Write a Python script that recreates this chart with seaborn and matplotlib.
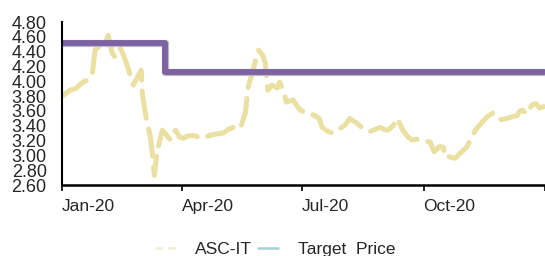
import pandas as pd
import numpy as np
import seaborn as sns
import matplotlib.pyplot as plt
import matplotlib.dates as mdates
from matplotlib.lines import Line2D

# share price
fechas = ['2020-01-02','2020-01-07','2020-01-11','2020-01-17','2020-01-21','2020-01-24','2020-01-26',
          '2020-01-28','2020-01-31','2020-02-02','2020-02-05','2020-02-08','2020-02-10','2020-02-14',
          '2020-02-16','2020-02-20','2020-02-24','2020-03-01','2020-03-02','2020-03-05','2020-03-08',
          '2020-03-09','2020-03-11','2020-03-13','2020-03-17','2020-03-20','2020-03-23','2020-03-27',
          '2020-03-30','2020-04-02','2020-04-05','2020-04-09','2020-04-13','2020-04-16','2020-04-22',
          '2020-04-27','2020-05-02','2020-05-06','2020-05-10','2020-05-15','2020-05-19','2020-05-21',
          '2020-05-24','2020-05-27','2020-05-29','2020-06-01','2020-06-03','2020-06-05','2020-06-08',
          '2020-06-12','2020-06-14','2020-06-17','2020-06-19','2020-06-24','2020-06-29','2020-07-04',
          '2020-07-09','2020-07-14','2020-07-16','2020-07-20','2020-07-24','2020-07-28','2020-07-31',
          '2020-08-03','2020-08-06','2020-08-11','2020-08-15','2020-08-18','2020-08-21','2020-08-25',
          '2020-08-29','2020-09-01','2020-09-04','2020-09-08','2020-09-11','2020-09-15','2020-09-19',
          '2020-09-22','2020-09-27','2020-10-01','2020-10-06','2020-10-09','2020-10-13','2020-10-16',
          '2020-10-17','2020-10-21','2020-10-25','2020-10-28','2020-10-30','2020-11-03','2020-11-07',
          '2020-11-10','2020-11-14','2020-11-18','2020-11-23','2020-11-26','2020-11-29','2020-12-03',
          '2020-12-07','2020-12-11','2020-12-13','2020-12-15','2020-12-18','2020-12-22','2020-12-25',
          '2020-12-28','2020-12-31']
precio = [3.81,3.88,3.90,3.99,4.02,4.11,4.42,
          4.46,4.47,4.49,4.62,4.38,4.33,4.45,
          4.38,4.18,3.95,4.15,3.81,3.48,3.25,
          3.10,2.73,3.05,3.34,3.28,3.21,3.34,
          3.25,3.23,3.26,3.27,3.25,3.23,3.27,
          3.29,3.30,3.35,3.38,3.36,3.58,3.92,
          4.11,4.30,4.42,4.35,4.25,3.88,3.95,
          3.91,3.99,3.85,3.72,3.75,3.62,3.57,
          3.55,3.50,3.38,3.33,3.30,3.34,3.38,
          3.42,3.50,3.44,3.38,3.35,3.32,3.35,
          3.38,3.35,3.34,3.40,3.50,3.35,3.25,
          3.21,3.22,3.20,3.18,3.05,3.12,3.11,
          2.98,2.98,2.96,3.02,3.05,3.12,3.27,
          3.36,3.44,3.52,3.58,3.53,3.48,3.50,
          3.52,3.54,3.60,3.61,3.56,3.68,3.70,
          3.64,3.66]

fechas_target = ['2020-01-01','2020-03-19','2020-12-31']
target = [4.52, 4.12, 4.12]

df = pd.DataFrame({'fecha': pd.to_datetime(fechas), 'precio': precio})
df_target = pd.DataFrame({'fecha': pd.to_datetime(fechas_target), 'target': target})

#%%
sns.set_style('white')
plt.rcParams['font.family'] = ['Liberation Sans', 'DejaVu Sans']

fig = plt.figure(figsize=(5.45, 2.56), dpi=100)
ax = fig.add_axes([0.1138, 0.277, 0.8862, 0.637])

sns.lineplot(x='fecha', y='precio', data=df, ax=ax, color='#EAE0A2', lw=3.6,
             linestyle=(0, (5.5, 2.2)), dash_capstyle='round', solid_capstyle='round',
             dash_joinstyle='round')
sns.lineplot(x='fecha', y='target', data=df_target, ax=ax, color='#B9B9C4', lw=5.2,
             drawstyle='steps-post')
sns.lineplot(x='fecha', y='target', data=df_target, ax=ax, color='#7D62A1', lw=4.2,
             drawstyle='steps-post')

ax.set_xlim(pd.Timestamp('2020-01-01'), pd.Timestamp('2021-01-01'))
ax.set_ylim(2.6, 4.8)
ax.set_yticks(np.arange(2.6, 4.81, 0.2))
ax.set_yticklabels([f'{v:.2f}' for v in np.arange(2.6, 4.81, 0.2)], fontsize=13)

ticks_x = pd.to_datetime(['2020-01-01', '2020-04-01', '2020-07-01', '2020-10-01', '2021-01-01'])
ax.set_xticks(ticks_x)
ax.set_xticklabels(['Jan-20', 'Apr-20', 'Jul-20', 'Oct-20', ''], fontsize=12.5, ha='left')
ax.tick_params(axis='x', direction='out', length=4, width=1.2, color='black', pad=6, bottom=True)
ax.tick_params(axis='y', length=0, pad=11)
ax.set_xlabel('')
ax.set_ylabel('')

ax.spines['right'].set_visible(False)
ax.spines['top'].set_visible(False)
ax.spines['left'].set_color('black')
ax.spines['bottom'].set_color('black')
ax.spines['left'].set_linewidth(1.5)
ax.spines['bottom'].set_linewidth(1.8)

handles = [Line2D([], [], color='#F2EDD6', lw=1.8, linestyle=(0, (3, 2))),
           Line2D([], [], color='#A9CEDB', lw=1.8)]
fig.legend(handles, ['ASC-IT', 'Target  Price'], loc='center', bbox_to_anchor=(0.505, 0.025),
           ncol=2, frameon=False, fontsize=12.5, handlelength=1.2, handletextpad=1.1,
           columnspacing=0.3)

fig.savefig('out.png', dpi=100)
